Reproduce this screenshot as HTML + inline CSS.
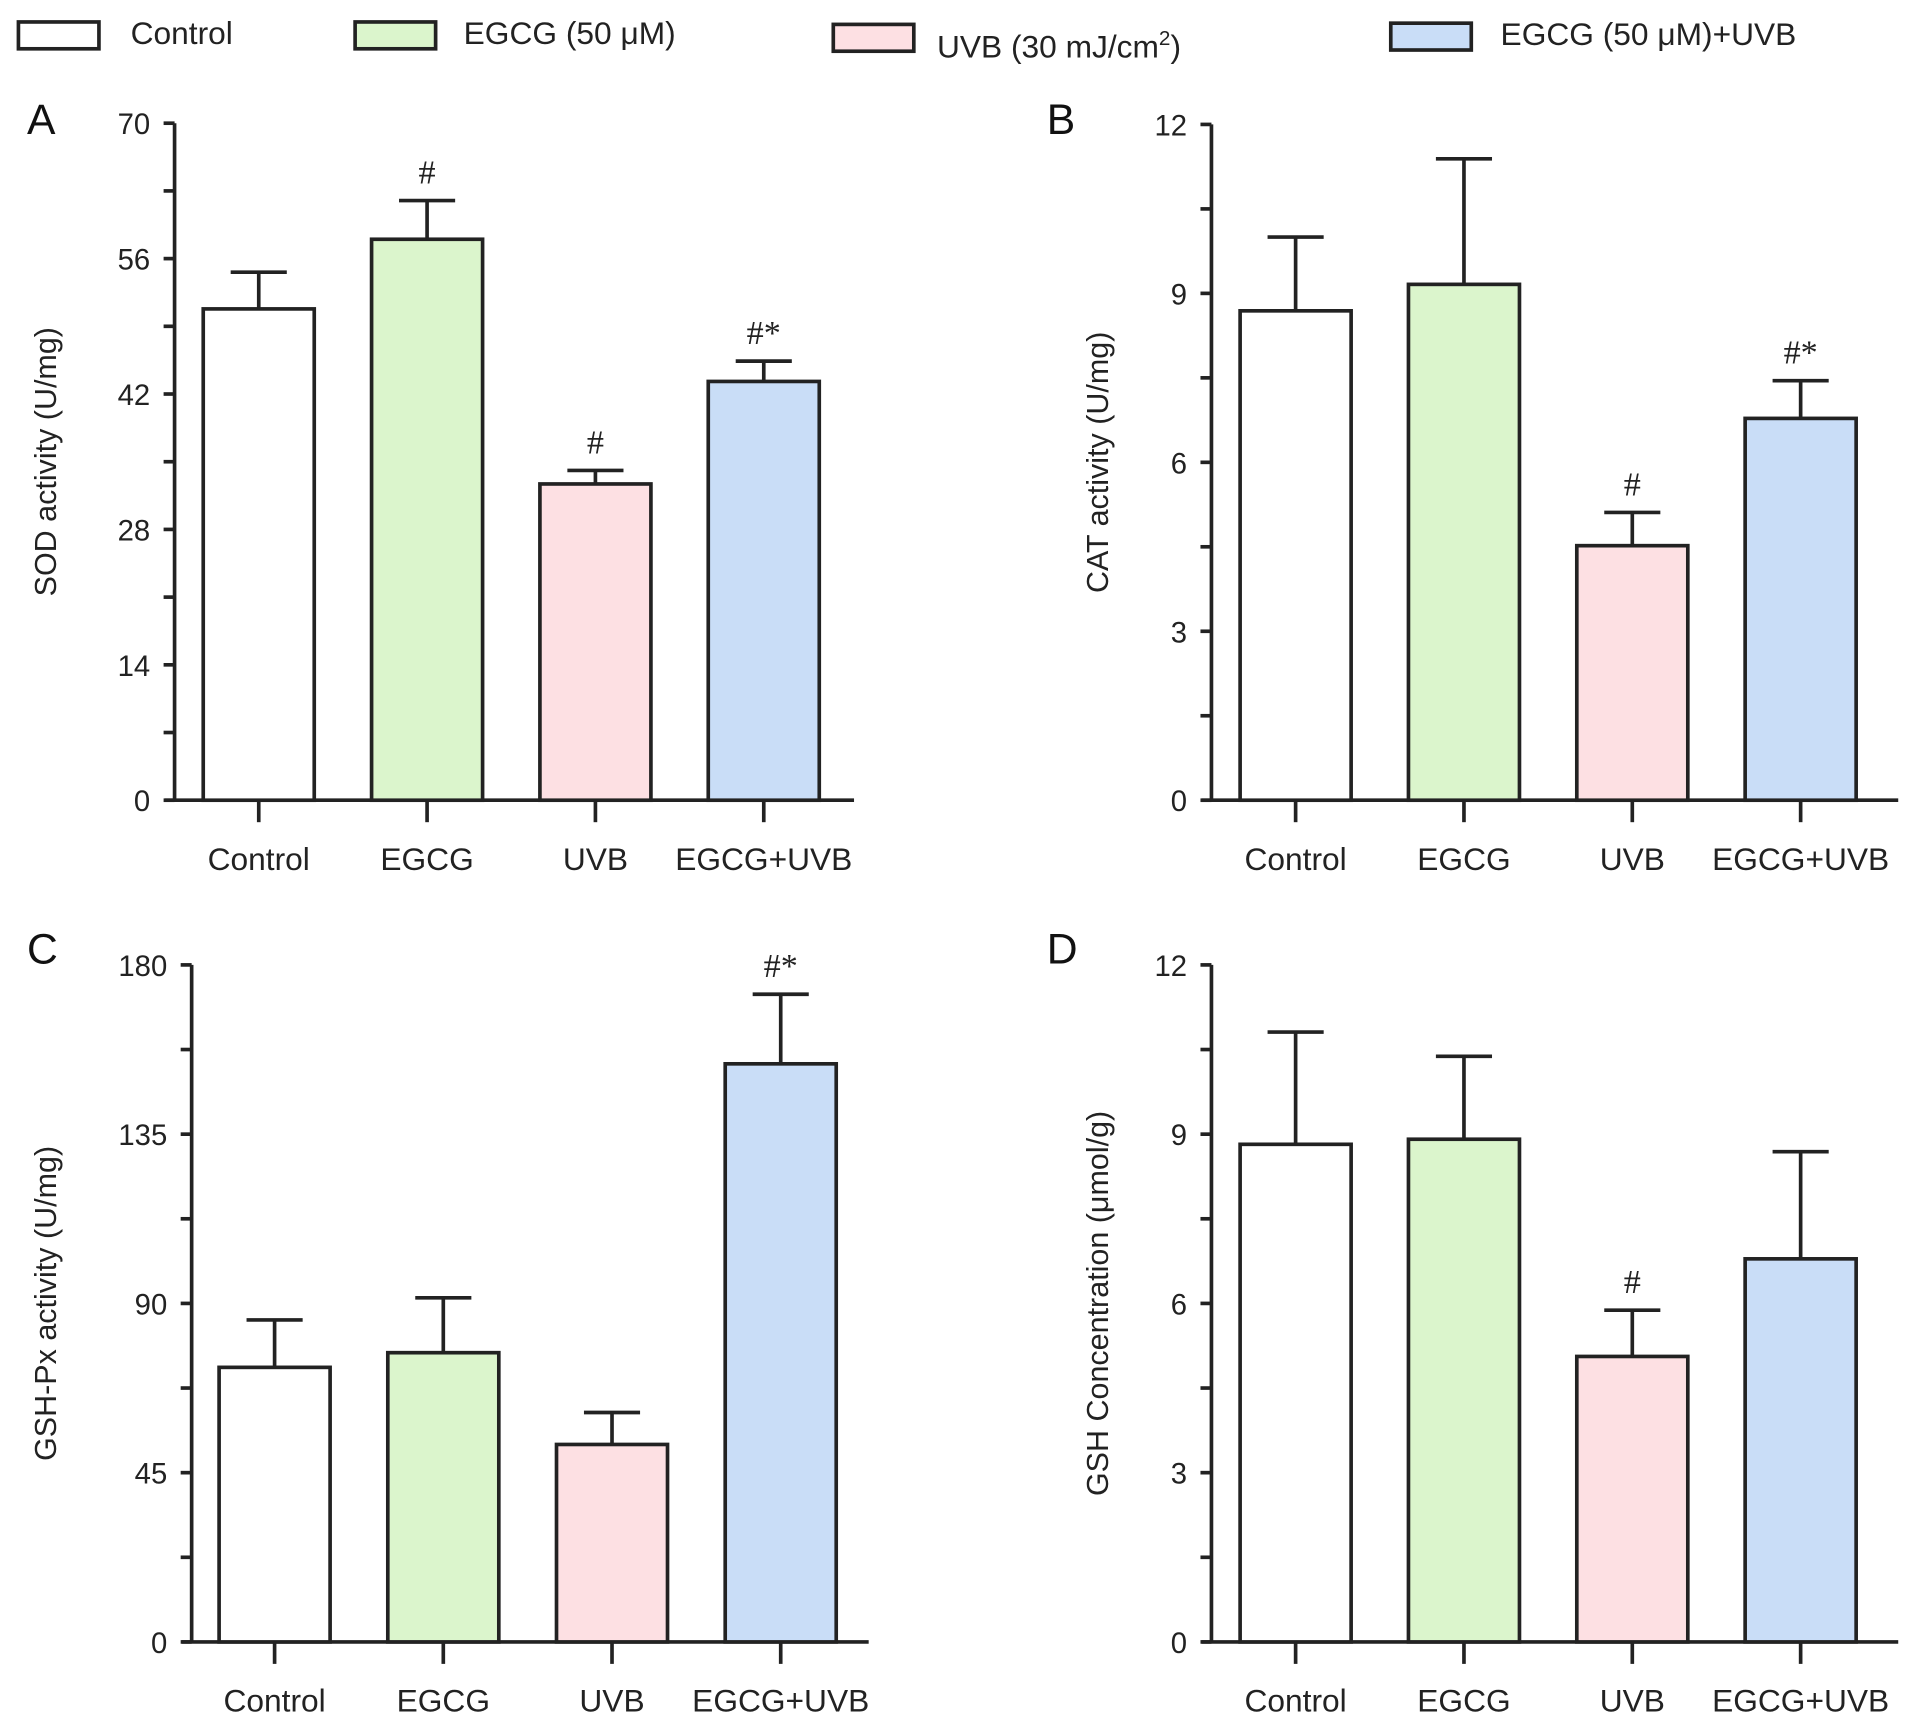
<!DOCTYPE html>
<html><head><meta charset="utf-8"><style>
html,body{margin:0;padding:0;background:#fff;}
svg{display:block;font-family:"Liberation Sans",Arial,sans-serif;}
</style></head><body>
<svg id="fig" width="1913" height="1720" viewBox="0 0 1568 1410" xmlns="http://www.w3.org/2000/svg">
<g font-size="26" fill="#222">
  <g><rect x="15" y="18" width="66" height="22" fill="#fff" stroke="#222" stroke-width="3"/><text x="107" y="36">Control</text></g>
  <g><rect x="291" y="18" width="66" height="22" fill="#dbf5cc" stroke="#222" stroke-width="3"/><text x="380" y="36">EGCG (50 μM)</text></g>
  <g><rect x="683" y="20" width="66" height="22" fill="#fde0e3" stroke="#222" stroke-width="3"/><text x="768" y="47">UVB (30 mJ/cm<tspan font-size="17" dy="-10">2</tspan><tspan dy="10">)</tspan></text></g>
  <g><rect x="1140" y="19" width="66" height="22" fill="#c9ddf7" stroke="#222" stroke-width="3"/><text x="1230" y="37">EGCG (50 μM)+UVB</text></g>
</g>
</svg>
<script>
const categories = ["Control","EGCG","UVB","EGCG+UVB"];
const colors = ["#ffffff","#dbf5cc","#fde0e3","#c9ddf7"];
const sodValues = [50.8, 58.0, 32.7, 43.3];
const sodErrors = [54.6, 62.0, 34.1, 45.4];
const sodMarks = ["", "#", "#", "#*"];
const sodTicks = [0,14,28,42,56,70];
const catValues = [8.69, 9.16, 4.52, 6.78];
const catErrors = [10.0, 11.39, 5.11, 7.45];
const catMarks = ["", "", "#", "#*"];
const catTicks = [0,3,6,9,12];
const gshpxValues = [73.0, 76.9, 52.5, 153.7];
const gshpxErrors = [85.6, 91.5, 61.0, 172.2];
const gshpxMarks = ["", "", "", "#*"];
const gshpxTicks = [0,45,90,135,180];
const gshValues = [8.82, 8.91, 5.06, 6.79];
const gshErrors = [10.81, 10.38, 5.88, 8.69];
const gshMarks = ["", "", "#", ""];
const gshTicks = [0,3,6,9,12];

const NS = "http://www.w3.org/2000/svg";
const svg = document.getElementById('fig');
function mk(tag, attrs, parent){const e=document.createElementNS(NS,tag);for(const k in attrs)e.setAttribute(k,attrs[k]);parent.appendChild(e);return e;}

function panel(cfg){
  const g = mk('g',{},svg);
  
  
  const ticks = cfg.ticks, max = ticks[ticks.length-1];
  const y = v => cfg.y0 - (v/max)*(cfg.y0-cfg.yTop);
  const step = cfg.step;
  const cx = i => cfg.x0 + i*step;
  const lbl = mk('text',{x:cfg.lx,y:cfg.ly,'font-size':35,fill:'#111'},g); lbl.textContent=cfg.id;
  
  
  const ya = mk('line',{x1:cfg.ax,y1:y(max),x2:cfg.ax,y2:cfg.y0,stroke:'#222','stroke-width':3},g);
  
  
  const xa = mk('line',{x1:cfg.ax-8,y1:cfg.y0,x2:cfg.xEnd,y2:cfg.y0,stroke:'#222','stroke-width':3},g);
  
  
  ticks.forEach((t,i)=>{
    mk('line',{x1:cfg.ax-9,y1:y(t),x2:cfg.ax,y2:y(t),stroke:'#222','stroke-width':3},g);
    const tx = mk('text',{x:cfg.ax-20,y:y(t)+9,'font-size':24,fill:'#222','text-anchor':'end'},g);
    tx.textContent=t;
    
    
    if(i<ticks.length-1){const m=(t+ticks[i+1])/2;mk('line',{x1:cfg.ax-9,y1:y(m),x2:cfg.ax,y2:y(m),stroke:'#222','stroke-width':3},g);}
  });
  const yt = mk('text',{x:0,y:0,'font-size':25,fill:'#222','text-anchor':'middle',transform:`translate(${cfg.tx},${(cfg.yTop+cfg.y0)/2}) rotate(-90)`},g);
  yt.textContent = cfg.title;
  
  
  const bw = 91;
  categories.forEach((c,i)=>{
    const x = cx(i);
    mk('line',{x1:x,y1:cfg.y0,x2:x,y2:cfg.y0+18,stroke:'#222','stroke-width':3},g);
    const xl = mk('text',{x:x,y:cfg.y0+57,'font-size':26,fill:'#222','text-anchor':'middle'},g);
    xl.textContent=c;
    
    
    const e = mk('path',{d:`M${x},${y(cfg.values[i])}V${y(cfg.errors[i])}M${x-23},${y(cfg.errors[i])}H${x+23}`,stroke:'#222','stroke-width':3,fill:'none'},g);
    
    
    const r = mk('rect',{x:x-bw/2,y:y(cfg.values[i]),width:bw,height:cfg.y0-y(cfg.values[i]),fill:colors[i],stroke:'#222','stroke-width':3},g);
    
    
    if(cfg.marks[i]){
      const s = mk('text',{x:x,y:y(cfg.errors[i])-14,'font-size':28,fill:'#222','text-anchor':'middle','font-family':'Liberation Serif, serif'},g);
      s.textContent = cfg.marks[i];
      
      
    }
  });
}
panel({id:'A',values:sodValues,errors:sodErrors,marks:sodMarks,ticks:sodTicks,title:'SOD activity (U/mg)',ax:143,x0:212,step:138,xEnd:700,yTop:101,y0:656,lx:22,ly:110,tx:46});
panel({id:'B',values:catValues,errors:catErrors,marks:catMarks,ticks:catTicks,title:'CAT activity (U/mg)',ax:993,x0:1062,step:138,xEnd:1556,yTop:102,y0:656,lx:858,ly:110,tx:908});
panel({id:'C',values:gshpxValues,errors:gshpxErrors,marks:gshpxMarks,ticks:gshpxTicks,title:'GSH-Px activity (U/mg)',ax:157,x0:225,step:138.3,xEnd:712,yTop:791,y0:1346,lx:22,ly:790,tx:46});
panel({id:'D',values:gshValues,errors:gshErrors,marks:gshMarks,ticks:gshTicks,title:'GSH Concentration (μmol/g)',ax:993,x0:1062,step:138,xEnd:1556,yTop:791,y0:1346,lx:858,ly:790,tx:908});
</script>
</body></html>
